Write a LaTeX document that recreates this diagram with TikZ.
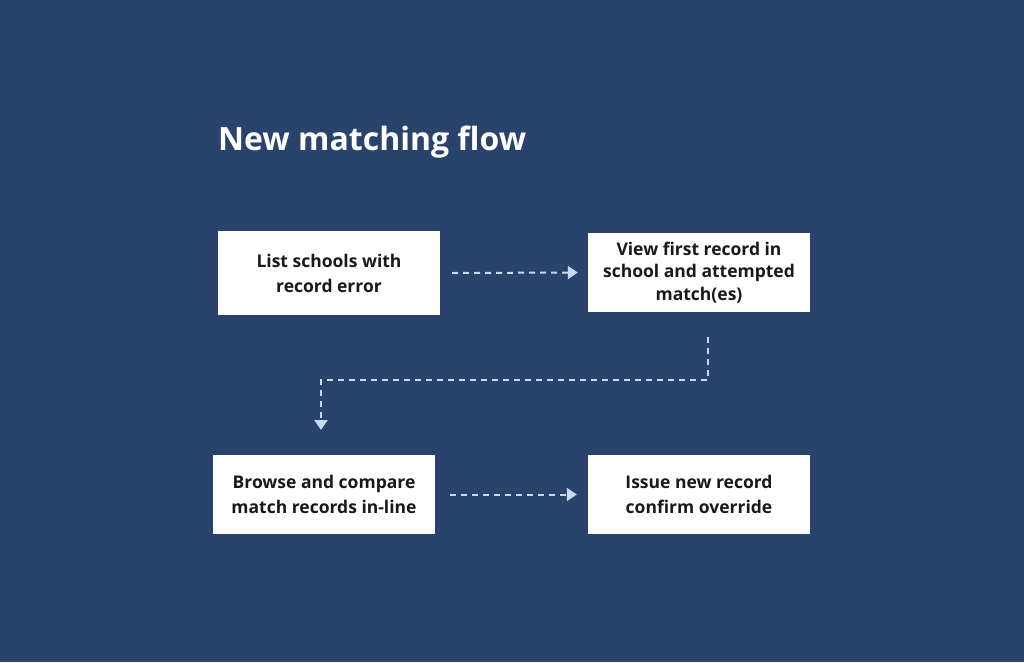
\documentclass[tikz,border=0pt]{standalone}
\usepackage{fontspec}
\setmainfont{Open Sans}
\usetikzlibrary{arrows.meta}
\definecolor{bg}{HTML}{2A436D}
\definecolor{arr}{HTML}{C5DAEE}
\begin{document}
\begin{tikzpicture}[x=1pt,y=-1pt,
  box/.style={draw=none,fill=white,minimum width=222pt,minimum height=80pt,inner sep=0pt,align=center,font=\fontsize{17.5}{25}\selectfont\bfseries,text=black!90},
  flow/.style={draw=arr,line width=2pt,dash pattern=on 6pt off 5pt,-{Triangle[width=13pt,length=10pt]}}]
\fill[bg] (0,0) rectangle (1024,662);
\useasboundingbox (0,0) rectangle (1024,662);
\node[anchor=west,text=white,font=\fontsize{32}{36}\selectfont\bfseries,inner sep=0pt] (title) at (218,142) {New matching flow};
\node[box,minimum height=84pt] (b1) at (329,273) {List schools with\\record error};
\node[box,minimum height=79pt,font=\fontsize{17.5}{22.5}\selectfont\bfseries] (b2) at (699,272.5) {View first record in\\school and attempted\\match(es)};
\node[box,minimum height=79pt] (b3) at (324,494.5) {Browse and compare\\match records in-line};
\node[box,minimum height=79pt] (b4) at (699,494.5) {Issue new record\\confirm override};
\coordinate (s2) at (708,337);
\coordinate (e3) at (321,430);
\draw[flow] ([xshift=12pt]b1.east) -- ([xshift=-10pt]b2.west);
\draw[flow] (s2) -- (708,380) -- (321,380) -- (e3);
\draw[flow] ([xshift=15pt]b3.east) -- ([xshift=-11pt]b4.west);
\end{tikzpicture}
\end{document}
